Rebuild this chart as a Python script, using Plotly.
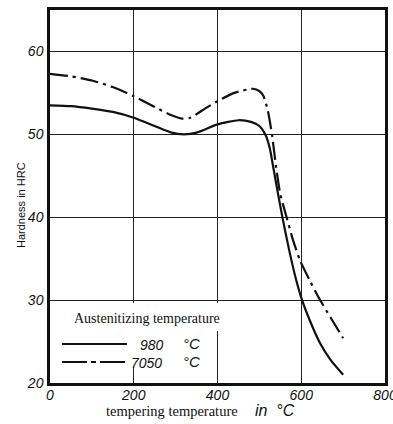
import plotly.graph_objects as go

# ---- data ----
temp_980 = [0, 50, 100, 150, 200, 250, 290, 320, 350, 400, 450, 480, 500, 515, 525, 535, 545, 555, 570, 585, 600, 620, 645, 670, 700]
hrc_980 = [53.5, 53.4, 53.1, 52.7, 52.0, 51.0, 50.2, 50.0, 50.2, 51.2, 51.7, 51.5, 51.0, 49.9, 48.3, 45.5, 42.7, 40.0, 36.3, 33.0, 30.3, 27.6, 24.8, 22.8, 21.0]

temp_1050 = [0, 50, 100, 150, 200, 250, 290, 315, 335, 370, 400, 440, 485, 500, 510, 520, 530, 540, 550, 565, 580, 597, 620, 644, 670, 700]
hrc_1050 = [57.3, 57.0, 56.5, 55.7, 54.6, 53.3, 52.3, 51.9, 52.0, 53.1, 54.0, 55.0, 55.5, 55.2, 54.6, 52.9, 50.0, 46.0, 42.8, 40.0, 37.3, 34.8, 32.4, 30.1, 27.9, 25.4]

x_ticks = [0, 200, 400, 600, 800]
y_ticks = [20, 30, 40, 50, 60]
series_labels = ["980", "7050"]
legend_title = "Austenitizing temperature"

# ---- layout geometry (pixels) ----
W, H = 393, 424
L, R, T, B = 50, 8, 10, 41
PW, PH = W - L - R, H - T - B


def px(xp):
    return (xp - L) / PW


def py(yp):
    return (H - B - yp) / PH


fig = go.Figure()
fig.add_trace(go.Scatter(x=temp_980, y=hrc_980, mode="lines",
                         line=dict(color="#111", width=2.2, shape="spline", smoothing=0.6),
                         showlegend=False, hoverinfo="skip"))
fig.add_trace(go.Scatter(x=temp_1050, y=hrc_1050, mode="lines",
                         line=dict(color="#111", width=2.2, shape="spline", smoothing=0.6,
                                   dash="18px,5px,3px,5px"),
                         showlegend=False, hoverinfo="skip"))

serif = "Liberation Serif"
sans = "Liberation Sans"

shapes = [
    # white patches behind the legend
    dict(type="rect", xref="paper", yref="paper", x0=px(58), x1=px(228), y0=py(331), y1=py(303),
         fillcolor="white", line=dict(width=0), layer="above"),
    dict(type="rect", xref="paper", yref="paper", x0=px(58), x1=px(200), y0=py(367), y1=py(331),
         fillcolor="white", line=dict(width=0), layer="above"),
    # legend samples
    dict(type="line", xref="paper", yref="paper", x0=px(62), x1=px(127), y0=py(344), y1=py(344),
         line=dict(color="#111", width=2.2), layer="above"),
    dict(type="line", xref="paper", yref="paper", x0=px(62), x1=px(127), y0=py(362), y1=py(362),
         line=dict(color="#111", width=2.2, dash="25px,4px,5px,4px"), layer="above"),
]

annotations = [
    dict(text=legend_title, xref="paper", yref="paper", x=px(147), y=py(318),
         showarrow=False, font=dict(family=serif, size=14, color="#111"),
         xanchor="center", yanchor="middle"),
    dict(text="<i>" + series_labels[0] + "</i>", xref="paper", yref="paper", x=px(166), y=py(345),
         showarrow=False, font=dict(family=sans, size=14, color="#111"), xanchor="right", yanchor="middle"),
    dict(text="<i>°C</i>", xref="paper", yref="paper", x=px(181), y=py(343),
         showarrow=False, font=dict(family=sans, size=15, color="#111"), xanchor="left", yanchor="middle"),
    dict(text="<i>" + series_labels[1] + "</i>", xref="paper", yref="paper", x=px(164), y=py(363),
         showarrow=False, font=dict(family=sans, size=14, color="#111"), xanchor="right", yanchor="middle"),
    dict(text="<i>°C</i>", xref="paper", yref="paper", x=px(181), y=py(361),
         showarrow=False, font=dict(family=sans, size=15, color="#111"), xanchor="left", yanchor="middle"),
    # axis titles
    dict(text="tempering temperature", xref="paper", yref="paper", x=px(104), y=py(411),
         showarrow=False, font=dict(family=serif, size=14.5, color="#111"), xanchor="left", yanchor="middle"),
    dict(text="<i>in</i>  <i>°C</i>", xref="paper", yref="paper", x=px(253), y=py(410),
         showarrow=False, font=dict(family=sans, size=16, color="#111"), xanchor="left", yanchor="middle"),
    dict(text="Hardness in HRC", xref="paper", yref="paper", x=px(21), y=py(205),
         showarrow=False, textangle=-90, font=dict(family=sans, size=11, color="#111"),
         xanchor="center", yanchor="middle"),
]

fig.update_layout(
    width=W, height=H,
    margin=dict(l=L, r=R, t=T, b=B, autoexpand=False),
    paper_bgcolor="white", plot_bgcolor="white",
    showlegend=False,
    shapes=shapes, annotations=annotations,
    xaxis=dict(range=[0, 800], tickvals=x_ticks, ticktext=["<i>%d</i>" % v for v in x_ticks],
               showgrid=True, gridcolor="#222", gridwidth=1.2, zeroline=False,
               showline=True, linecolor="#111", linewidth=2.5, mirror=True,
               ticks="", tickfont=dict(family=sans, size=14, color="#111"),
               ticklabelstandoff=-3, ticklabeloverflow="allow", automargin=False, fixedrange=True),
    yaxis=dict(range=[20, 65], tickvals=y_ticks, ticktext=["<i>%d</i>" % v for v in y_ticks],
               showgrid=True, gridcolor="#222", gridwidth=1.2, zeroline=False,
               showline=True, linecolor="#111", linewidth=2.5, mirror=True,
               ticks="", tickfont=dict(family=sans, size=14, color="#111"),
               ticklabelstandoff=1, automargin=False, fixedrange=True),
)

fig.write_html("out.html", config={"displayModeBar": False},
               post_script="document.body.style.margin='0';document.body.style.padding='0';"
                           "document.body.style.overflow='hidden';")
